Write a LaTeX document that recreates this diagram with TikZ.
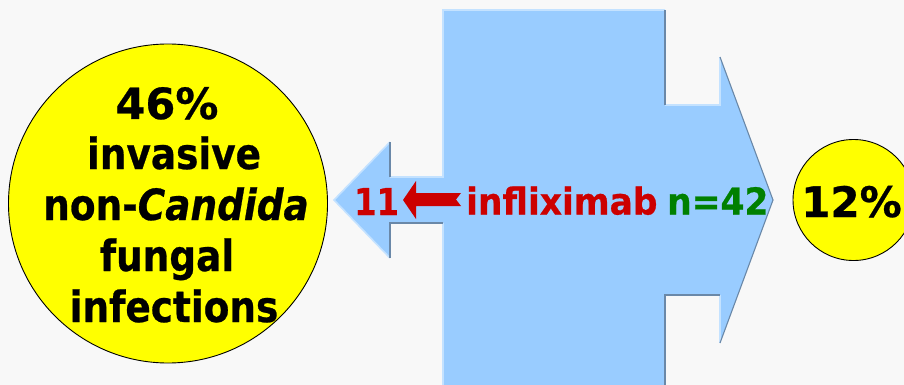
\documentclass[tikz,border=0pt]{standalone}
\usepackage{fontspec}
\newfontfamily\tah[FakeStretch=0.87, FakeBold=0.6]{DejaVu Sans}
\newfontfamily\tahmid[FakeStretch=0.93, FakeBold=0.6]{DejaVu Sans}
\newfontfamily\tahnum[FakeBold=0.6]{DejaVu Sans}
\definecolor{bg}{HTML}{F8F8F8}
\definecolor{bluefill}{HTML}{99CCFF}
\definecolor{bluelight}{HTML}{C4E2FF}
\definecolor{bluedark}{HTML}{6A88A8}
\definecolor{txtred}{HTML}{CC0000}
\definecolor{txtgreen}{HTML}{008000}
\definecolor{ballyellow}{HTML}{FFFF00}
\tikzset{
  bigtxt/.style={inner sep=0pt, anchor=base, font=\tah\bfseries\fontsize{43}{51}\selectfont},
  numtxt/.style={inner sep=0pt, anchor=base, font=\tahnum\bfseries\fontsize{43}{51}\selectfont},
  midtxt/.style={inner sep=0pt, anchor=base west, font=\tahmid\bfseries\fontsize{37}{44}\selectfont},
  yball/.style={circle, draw=black, line width=0.9pt, fill=ballyellow, inner sep=0pt},
  hilite/.style={draw=bluelight, line width=1.6pt},
  shade/.style={draw=bluedark, line width=1.1pt},
}
\begin{document}
\begin{tikzpicture}[x=1pt,y=-1pt]
\useasboundingbox (0,0) rectangle (904,385);
\clip (0,0) rectangle (904,385);
\fill[bg] (0,0) rectangle (904,385);
% blue shape
\fill[bluefill] (443,386) -- (443,223) -- (390,223) -- (390,258) -- (334,200) -- (390,142) -- (390,177) -- (443,177) -- (443,10) -- (665,10) -- (665,105) -- (720,105) -- (720,57) -- (773,200) -- (720,343) -- (720,295) -- (665,295) -- (665,386) -- cycle;
% highlights
\draw[hilite] (443,386) -- (443,223);
\draw[hilite] (390,258) -- (334,200) -- (390,142);
\draw[hilite] (390,177) -- (443,177) -- (443,10) -- (665,10);
\draw[hilite] (665,105) -- (720,105) -- (720,57);
\draw[hilite] (720,343) -- (720,295);
% shadows
\draw[shade] (443,223) -- (390,223) -- (390,258);
\draw[shade] (390,142) -- (390,177);
\draw[shade] (665,10) -- (665,105);
\draw[shade] (720,57) -- (773,200) -- (720,343);
\draw[shade] (720,295) -- (665,295) -- (665,386);
% circles
\node[yball, minimum size=319pt] (c1) at (168,203.5) {};
\node[yball, minimum size=121pt] (c2) at (853.5,200) {};
% left circle text
\node[numtxt] (l1) at (167,119) {46\%};
\node[bigtxt] (l2) at (174,169) {invasive};
\node[bigtxt] (l3) at (176,220) {non-\textit{Candida}};
\node[bigtxt] (l4) at (167,271) {fungal};
\node[bigtxt] (l5) at (174,322) {infections};
% red arrow
\fill[txtred] (403,200) -- (416,181) -- (416,193) -- (461,193) -- (456,199.5) -- (461,206) -- (416,206) -- (416,219) -- cycle;
% middle text
\node[midtxt, text=txtred, font=\tah\bfseries\fontsize{37}{44}\selectfont] (n11) at (354,215) {11};
\node[midtxt, text=txtred] (infl) at (466,214.5) {infliximab};
\node[midtxt, text=txtgreen] (n42) at (667,214.5) {n=42};
% right circle text
\node[numtxt, anchor=base west, font=\tahnum\bfseries\fontsize{42}{50}\selectfont] (r1) at (801,217) {12\%};
\end{tikzpicture}
\end{document}
